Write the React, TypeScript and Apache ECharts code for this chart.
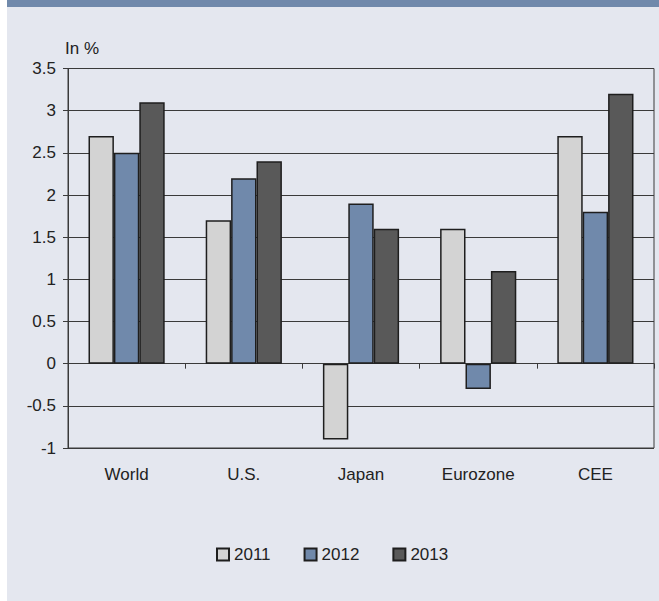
import React, { useEffect, useRef } from "react";
import * as echarts from "echarts";

const categories = ["World", "U.S.", "Japan", "Eurozone", "CEE"];
const seriesNames = ["2011", "2012", "2013"];
const values2011 = [2.7, 1.7, -0.9, 1.6, 2.7];
const values2012 = [2.5, 2.2, 1.9, -0.3, 1.8];
const values2013 = [3.1, 2.4, 1.6, 1.1, 3.2];
const colors = ["#d3d3d3", "#7089ab", "#595959"];
const unitLabel = "In %";

const FONT = "'Liberation Sans', Arial, sans-serif";
const TEXT = "#222222";

export default function App() {
  const ref = useRef<HTMLDivElement>(null);
  useEffect(() => {
    if (!ref.current) return;
    const chart = echarts.init(ref.current, undefined, { renderer: "svg" });
    const data = [values2011, values2012, values2013];
    chart.setOption({
      animation: false,
      backgroundColor: "#ffffff",
      textStyle: { fontFamily: FONT },
      graphic: [
        { type: "rect", z: -10, shape: { x: 7, y: 0, width: 652, height: 7 }, style: { fill: "#7089ab" }, silent: true },
        { type: "rect", z: -10, shape: { x: 7, y: 7, width: 652, height: 594 }, style: { fill: "#e4e7ef" }, silent: true },
        { type: "text", x: 65, y: 40, style: { text: unitLabel, fill: TEXT, font: `17px ${FONT}` }, silent: true },
      ],
      grid: {
        left: 68,
        right: 5,
        top: 68.5,
        bottom: 153,
        containLabel: false,
        show: true,
        borderColor: "#3a3a3a",
        borderWidth: 1,
        backgroundColor: "transparent",
      },
      legend: {
        data: seriesNames,
        top: 541,
        left: 211,
        itemWidth: 12,
        itemHeight: 12,
        itemGap: 33,
        icon: "rect",
        textStyle: { color: TEXT, fontSize: 17, fontFamily: FONT },
      },
      xAxis: [
        {
          type: "category",
          data: categories,
          position: "bottom",
          axisLine: { show: false, onZero: false },
          axisTick: { show: false },
          axisLabel: { color: TEXT, fontSize: 17, fontFamily: FONT, margin: 18 },
          splitLine: { show: false },
        },
        {
          type: "category",
          data: categories,
          position: "bottom",
          axisLine: { show: true, onZero: true, lineStyle: { color: "#3a3a3a", width: 1 } },
          axisTick: { show: true, inside: false, length: 5, lineStyle: { color: "#3a3a3a" } },
          axisLabel: { show: false },
          splitLine: { show: false },
        },
      ],
      yAxis: {
        type: "value",
        min: -1,
        max: 3.5,
        interval: 0.5,
        axisLine: { show: true, lineStyle: { color: "#3a3a3a", width: 1 } },
        axisTick: { show: true, inside: false, length: 5, lineStyle: { color: "#3a3a3a" } },
        axisLabel: { color: TEXT, fontSize: 17, fontFamily: FONT, margin: 12 },
        splitLine: { show: true, lineStyle: { color: "#3a3a3a", width: 1 } },
      },
      series: seriesNames.map((name, i) => ({
        name,
        type: "bar",
        xAxisIndex: 0,
        data: data[i],
        barGap: "0%",
        barCategoryGap: "35%",
        itemStyle: { color: colors[i], borderColor: "#1e1e1e", borderWidth: 1.5 },
      })),
    });
    return () => chart.dispose();
  }, []);
  return (
    <div
      ref={ref}
      style={{ position: "fixed", left: 0, top: 0, width: 659, height: 601 }}
    />
  );
}
